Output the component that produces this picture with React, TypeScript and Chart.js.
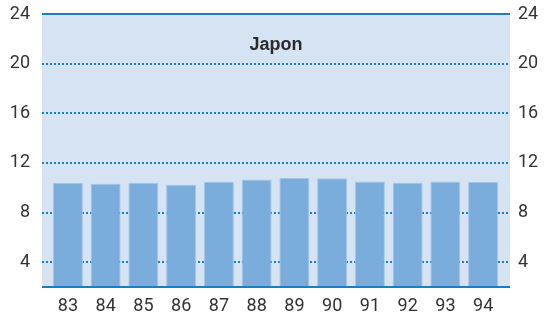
import React, { useEffect, useRef } from "react";
import { Chart, registerables } from "chart.js";

Chart.register(...registerables);

const categories = ["83", "84", "85", "86", "87", "88", "89", "90", "91", "92", "93", "94"];
const values = [10.38, 10.33, 10.41, 10.25, 10.49, 10.67, 10.79, 10.76, 10.51, 10.41, 10.51, 10.46];
const yTicks = [4, 8, 12, 16, 20, 24];
const title = "Japon";

const FONT = "'Liberation Sans Narrow', 'Roboto', 'Liberation Sans', sans-serif";
const BLUE = "#1a7dc8";
const PAD_L = 7;
const PAD_R = 8;

const decor = {
  id: "decor",
  beforeDatasetsDraw(chart: any) {
    const { ctx, chartArea } = chart;
    const y = chart.scales.y;
    const l = chartArea.left - PAD_L;
    const r = chartArea.right + PAD_R;
    ctx.save();
    ctx.fillStyle = "#d6e3f3";
    ctx.fillRect(l, chartArea.top, r - l, chartArea.bottom - chartArea.top);
    ctx.strokeStyle = BLUE;
    ctx.lineWidth = 2;
    ctx.setLineDash([2, 2]);
    for (const v of yTicks) {
      if (v === 24) continue;
      const py = Math.round(y.getPixelForValue(v));
      ctx.beginPath();
      ctx.moveTo(l, py);
      ctx.lineTo(r, py);
      ctx.stroke();
    }
    ctx.setLineDash([]);
    ctx.fillStyle = "#2a2a2a";
    ctx.font = "bold 18px 'Liberation Sans', Arial, sans-serif";
    ctx.textAlign = "center";
    ctx.textBaseline = "middle";
    ctx.fillText(title, (l + r) / 2, 45);
    ctx.restore();
  },
  afterDatasetsDraw(chart: any) {
    const { ctx, chartArea } = chart;
    const y = chart.scales.y;
    const l = chartArea.left - PAD_L;
    const r = chartArea.right + PAD_R;
    ctx.save();
    ctx.strokeStyle = BLUE;
    ctx.lineWidth = 2;
    const top = Math.round(y.getPixelForValue(24));
    ctx.beginPath();
    ctx.moveTo(l, top);
    ctx.lineTo(r, top);
    ctx.stroke();
    const bot = Math.round(chartArea.bottom);
    ctx.beginPath();
    ctx.moveTo(l, bot);
    ctx.lineTo(r, bot);
    ctx.stroke();
    ctx.restore();
  },
};

const zeroPad = (s: any) => {
  s.paddingTop = 0;
  s.paddingBottom = 0;
  s.paddingLeft = 0;
  s.paddingRight = 0;
};

export default function App() {
  const ref = useRef<HTMLCanvasElement>(null);
  useEffect(() => {
    if (!ref.current) return;
    const setTicks = (scale: any) => {
      scale.ticks = yTicks.map((v) => ({ value: v }));
    };
    const chart = new Chart(ref.current, {
      type: "bar",
      data: {
        labels: categories,
        datasets: [
          {
            data: values,
            backgroundColor: "#7aacdc",
            borderColor: "#a3c5e8",
            borderWidth: 1,
            barPercentage: 0.795,
            categoryPercentage: 1,
            yAxisID: "y",
          },
        ],
      },
      options: {
        animation: false,
        responsive: false,
        maintainAspectRatio: false,
        layout: { padding: { top: 14, left: 0, right: 0, bottom: 0 } },
        plugins: { legend: { display: false }, tooltip: { enabled: false }, title: { display: false } },
        scales: {
          x: {
            grid: { display: false, drawTicks: false },
            border: { display: false },
            ticks: { color: "#333", font: { family: FONT, size: 18 }, padding: 9, maxRotation: 0 },
            afterFit: (s: any) => {
              s.height = 32;
              zeroPad(s);
            },
          },
          y: {
            position: "left",
            min: 2,
            max: 24,
            grid: { display: false, drawTicks: false },
            border: { display: false },
            afterBuildTicks: setTicks,
            ticks: { color: "#333", font: { family: FONT, size: 18 }, padding: 12 + PAD_L },
            afterFit: (s: any) => {
              s.width = 42 + PAD_L;
              zeroPad(s);
            },
          },
          y2: {
            position: "right",
            min: 2,
            max: 24,
            grid: { display: false, drawTicks: false },
            border: { display: false },
            afterBuildTicks: setTicks,
            ticks: { color: "#333", font: { family: FONT, size: 18 }, padding: 8 + PAD_R },
            afterFit: (s: any) => {
              s.width = 42 + PAD_R;
              zeroPad(s);
            },
          },
        },
      },
      plugins: [decor],
    });
    return () => chart.destroy();
  }, []);
  return (
    <div style={{ position: "fixed", left: 0, top: 0, width: 552, height: 319 }}>
      <canvas ref={ref} width={552} height={319} style={{ width: 552, height: 319 }} />
    </div>
  );
}
